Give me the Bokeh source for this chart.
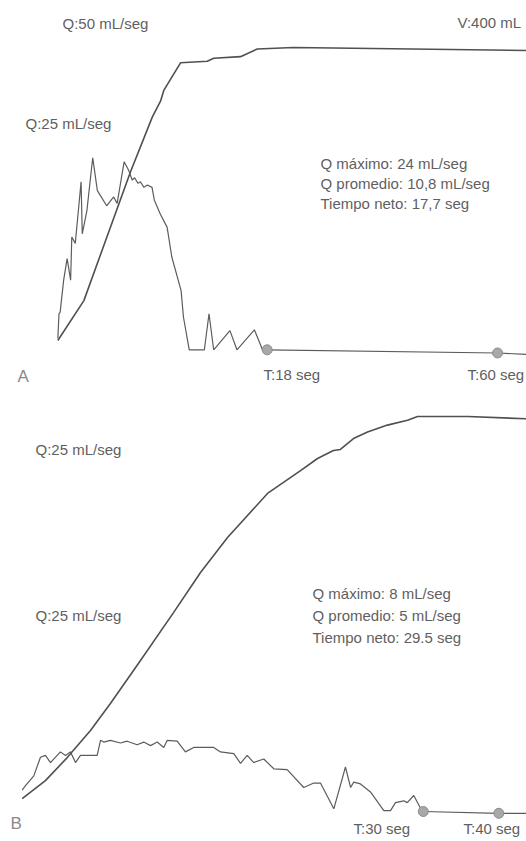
from bokeh.plotting import figure
from bokeh.models import Range1d, Label
from bokeh.layouts import column
from bokeh.embed import file_html
from bokeh.resources import INLINE

# ---------------- Panel A data ----------------
a_flow_t = [0.0, 0.1, 0.2, 0.5, 0.8, 1.1, 1.2, 1.5, 2.0, 2.1, 2.5, 3.0, 3.4, 4.2, 4.8, 5.1,
            5.7, 6.1, 6.4, 6.6, 6.9, 7.1, 7.4, 7.7, 8.1, 8.3, 8.8, 9.4, 9.8, 10.6, 10.8, 11.3,
            12.6, 13.0, 13.4, 14.8, 15.4, 16.9, 17.6, 18.0]
a_flow_q = [1.4, 4.5, 4.7, 8.7, 11.4, 8.7, 14.1, 13.3, 21.0, 14.5, 17.4, 24.0, 19.9, 18.0, 19.1, 18.3,
            23.5, 22.4, 21.2, 21.5, 20.8, 21.0, 20.3, 20.6, 20.3, 18.7, 17.0, 15.3, 11.6, 7.4, 4.1, 0.0,
            0.0, 4.5, 0.0, 2.4, 0.0, 2.5, 0.0, 0.0]
a_vol_t = [0.0, 2.24, 6.25, 8.12, 8.83, 9.11, 10.55, 12.85, 13.41, 15.71, 17.15, 22.8, 66.0]
a_vol_v = [0.0, 26.0, 110.0, 145.6, 156.0, 163.0, 181.0, 182.0, 184.0, 185.0, 190.0, 191.0, 189.0]
a_base_t = [18.0, 60.0, 66.0]
a_base_q = [0.0, -0.4, -0.6]
a_mark_t = [18.0, 60.0]
a_mark_q = [0.0, -0.4]
a_end = 18.0
a_labels_top = ["Q:50 mL/seg", "V:400 mL", "Q:25 mL/seg"]
a_stats = ["Q máximo: 24 mL/seg", "Q promedio: 10,8 mL/seg", "Tiempo neto: 17,7 seg"]
a_time_labels = ["T:18 seg", "T:60 seg"]

# ---------------- Panel B data ----------------
b_flow_t = [0.0, 0.25, 0.87, 1.37, 1.74, 2.12, 2.86, 3.24, 3.61, 3.99, 4.36, 5.61, 5.86, 6.10, 6.60,
            7.35, 7.85, 8.60, 9.09, 9.60, 10.10, 10.59, 10.85, 11.59, 12.21, 12.83, 14.33, 14.83,
            15.83, 16.33, 16.83, 17.32, 18.07, 18.82, 19.82, 21.06, 21.81, 22.31, 23.31, 24.18,
            24.56, 24.80, 25.30, 26.05, 27.05, 27.55, 27.92, 28.54, 28.80, 29.29, 29.92, 30.0]
b_flow_q = [2.4, 2.9, 4.0, 6.1, 6.3, 5.5, 6.7, 6.3, 6.7, 5.5, 6.3, 6.3, 8.0, 7.8, 8.0,
            7.7, 7.9, 7.5, 7.8, 7.4, 7.8, 7.2, 8.0, 7.9, 6.7, 7.2, 7.2, 6.7,
            6.5, 5.4, 6.3, 5.5, 5.9, 4.8, 4.7, 2.7, 3.2, 3.2, 0.3, 5.0,
            2.7, 3.3, 3.1, 2.2, 0.1, 0.1, 1.0, 1.2, 1.0, 1.8, 0.0, 0.0]
b_vol_t = [0.0, 1.74, 3.37, 5.11, 6.60, 8.85, 11.32, 13.34, 15.36, 18.35, 20.82, 22.09, 23.28,
           23.80, 24.78, 25.83, 27.32, 28.82, 29.57, 35.9, 44.0]
b_vol_v = [0.0, 6.9, 15.8, 26.3, 36.7, 53.3, 71.8, 87.3, 100.8, 117.8, 126.6, 131.3, 134.4,
           134.8, 139.0, 141.5, 144.2, 146.1, 147.5, 147.5, 146.6]
b_base_t = [30.0, 40.0, 44.0]
b_base_q = [0.0, -0.2, -0.2]
b_mark_t = [30.0, 40.0]
b_mark_q = [0.0, -0.2]
b_end = 30.0
b_labels_top = ["Q:25 mL/seg", "Q:25 mL/seg"]
b_stats = ["Q máximo: 8 mL/seg", "Q promedio: 5 mL/seg", "Tiempo neto: 29.5 seg"]
b_time_labels = ["T:30 seg", "T:40 seg"]

LINE = "#505050"
FLOW = "#5c5c5c"
TXT = "#5f5f5f"
FONT = "Liberation Sans"


def squeeze(ts, t_end, r):
    return [t if t <= t_end else t_end + (t - t_end) * r for t in ts]


def make_fig(h, xr, yr, vr):
    p = figure(width=526, height=h, x_range=Range1d(*xr), y_range=Range1d(*yr),
               output_backend="svg", toolbar_location=None, min_border=0,
               x_axis_location=None, y_axis_location=None)
    p.extra_y_ranges = {"vol": Range1d(*vr)}
    p.grid.visible = False
    p.outline_line_color = None
    p.background_fill_color = "white"
    p.border_fill_color = "white"
    return p


def lab(p, text, x, y, size=15, color=TXT, font=FONT):
    p.add_layout(Label(x=x, y=y, x_units="screen", y_units="screen", text=text,
                       text_font=font, text_font_size=f"{size}px", text_color=color,
                       text_baseline="middle", text_align="left"))


# ---------------- Panel A ----------------
ra = 0.4717
pa = make_fig(400, (-4.93, 40.30), (-6.34, 43.66), (-39.1, 221.6))
pa.line(squeeze(a_vol_t, a_end, ra), a_vol_v, y_range_name="vol", line_color=LINE, line_width=1.6)
pa.line(squeeze(a_flow_t, a_end, ra), a_flow_q, line_color=FLOW, line_width=1.2)
pa.line(squeeze(a_base_t, a_end, ra), a_base_q, line_color=FLOW, line_width=1.2)
pa.scatter(squeeze(a_mark_t, a_end, ra), a_mark_q, size=10, fill_color="#a8a8a8", line_color="#8c8c8c")
lab(pa, a_labels_top[0], 62, 377)
lab(pa, a_labels_top[1], 457, 378)
lab(pa, a_labels_top[2], 25, 277)
for i, s in enumerate(a_stats):
    lab(pa, s, 320, 237.3 - 20.3 * i)
lab(pa, "A", 17, 24, size=17, color="#8a8a8a")
lab(pa, a_time_labels[0], 263, 26)
lab(pa, a_time_labels[1], 467, 26)

# ---------------- Panel B ----------------
rb = 0.565
pb = make_fig(441, (-1.62, 37.72), (-3.37, 46.18), (-16.6, 153.7))
pb.line(squeeze(b_vol_t, b_end, rb), b_vol_v, y_range_name="vol", line_color=LINE, line_width=1.6)
pb.line(squeeze(b_flow_t, b_end, rb), b_flow_q, line_color=FLOW, line_width=1.2)
pb.line(squeeze(b_base_t, b_end, rb), b_base_q, line_color=FLOW, line_width=1.2)
pb.scatter(squeeze(b_mark_t, b_end, rb), b_mark_q, size=10, fill_color="#a8a8a8", line_color="#8c8c8c")
lab(pb, b_labels_top[0], 35, 392)
lab(pb, b_labels_top[1], 35, 226)
for i, s in enumerate(b_stats):
    lab(pb, s, 312, 248.3 - 22.3 * i)
lab(pb, "B", 10, 18, size=17, color="#8a8a8a")
lab(pb, b_time_labels[0], 353, 13)
lab(pb, b_time_labels[1], 463, 13)

layout = column(pa, pb, spacing=0)
open("out.html", "w").write(file_html(layout, INLINE))
